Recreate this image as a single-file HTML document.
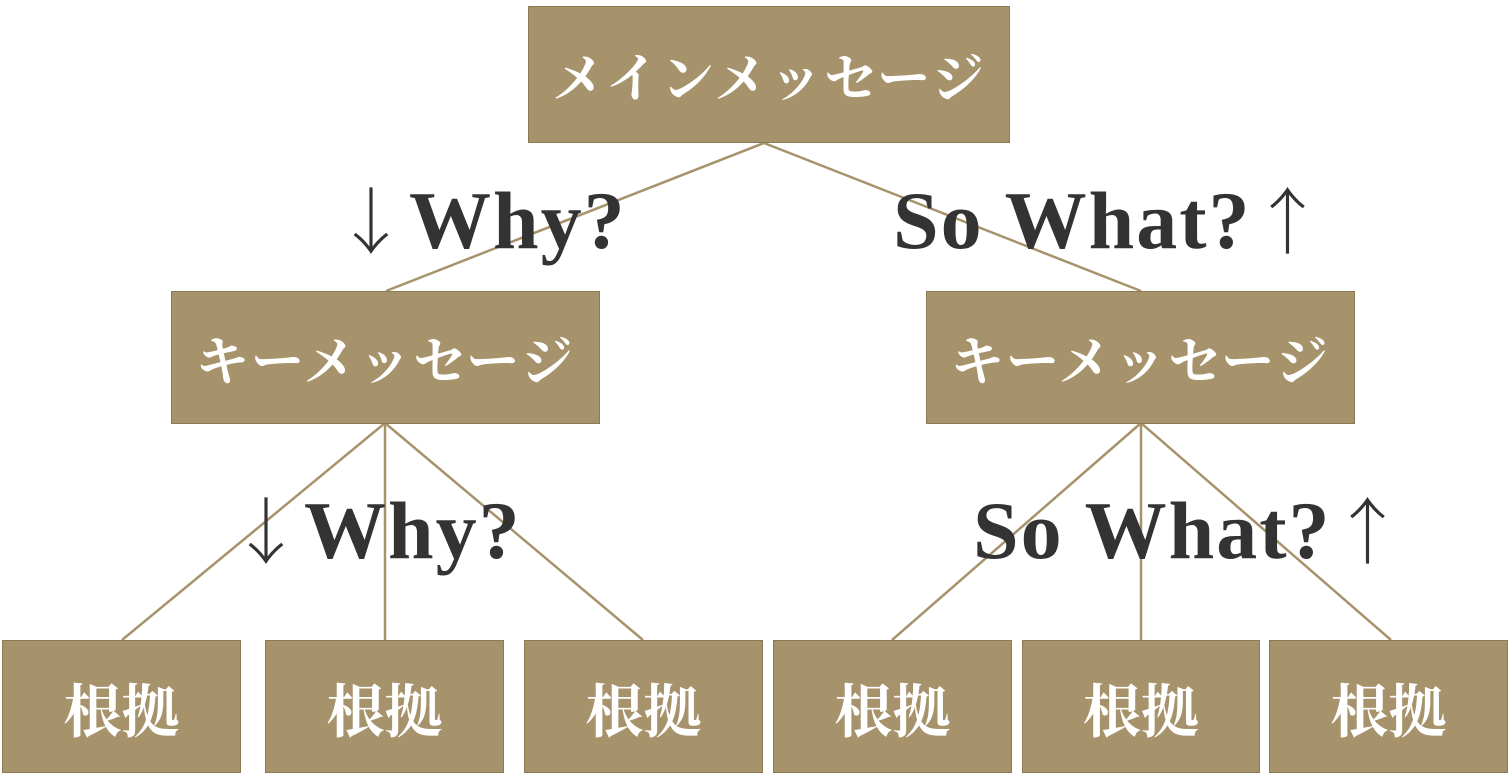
<!DOCTYPE html>
<html><head><meta charset="utf-8"><style>
body{margin:0;width:1510px;height:780px;background:#fff;position:relative;overflow:hidden}
.b{position:absolute;background:#a6936b;border:1px solid #8c7a55;box-sizing:border-box;color:#fff;display:flex;align-items:center;justify-content:center;font-family:"Liberation Serif","Noto Serif CJK JP","Noto Serif CJK SC",serif;font-weight:bold;font-size:53px;white-space:nowrap}
.l{position:absolute;font-family:"Liberation Serif","Noto Serif CJK JP",serif;font-weight:bold;font-size:82px;color:#333;white-space:nowrap;line-height:1;letter-spacing:2px}
.a{font-family:"Noto Serif CJK JP",serif;font-weight:normal;font-size:72px}
svg{position:absolute;left:0;top:0}
</style></head><body>
<svg width="1510" height="780"><g stroke="#a6936b" stroke-width="2.5" fill="none">
<line x1="764" y1="143" x2="386" y2="291"/><line x1="764" y1="143" x2="1141" y2="291"/>
<line x1="385" y1="423" x2="122" y2="640"/><line x1="385" y1="423" x2="385" y2="640"/><line x1="385" y1="423" x2="643" y2="640"/>
<line x1="1141" y1="423" x2="892" y2="640"/><line x1="1141" y1="423" x2="1141" y2="640"/><line x1="1141" y1="423" x2="1391" y2="640"/>
</g></svg>
<div class="b" style="left:528px;top:6px;width:482px;height:137px;letter-spacing:2px">メインメッセージ</div>
<div class="b" style="left:171px;top:291px;width:429px;height:133px;letter-spacing:2px">キーメッセージ</div>
<div class="b" style="left:926px;top:291px;width:429px;height:133px;letter-spacing:2px">キーメッセージ</div>
<div class="b" style="left:2px;top:640px;width:239px;height:133px;font-size:58px">根拠</div>
<div class="b" style="left:265px;top:640px;width:239px;height:133px;font-size:58px">根拠</div>
<div class="b" style="left:524px;top:640px;width:239px;height:133px;font-size:58px">根拠</div>
<div class="b" style="left:773px;top:640px;width:239px;height:133px;font-size:58px">根拠</div>
<div class="b" style="left:1022px;top:640px;width:238px;height:133px;font-size:58px">根拠</div>
<div class="b" style="left:1269px;top:640px;width:239px;height:133px;font-size:58px">根拠</div>
<div class="l" style="left:335px;top:180px"><span class="a">↓</span>Why?</div>
<div class="l" style="left:893px;top:180px">So What?<span class="a">↑</span></div>
<div class="l" style="left:230px;top:490px"><span class="a">↓</span>Why?</div>
<div class="l" style="left:973px;top:490px">So What?<span class="a">↑</span></div>
</body></html>
